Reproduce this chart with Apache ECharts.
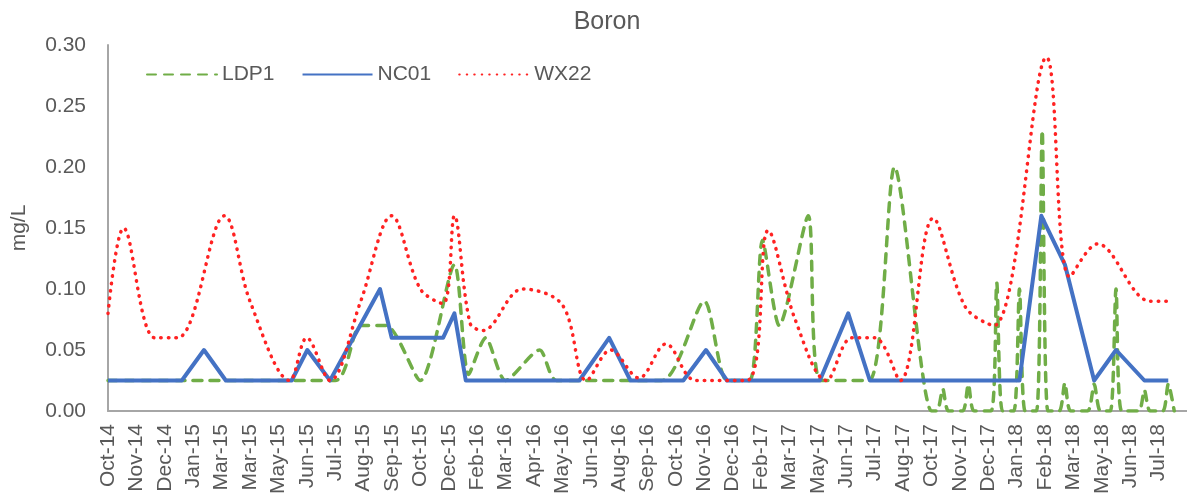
<!DOCTYPE html>
<html>
<head>
<meta charset="utf-8">
<title>Boron</title>
<script src="https://cdn.jsdelivr.net/npm/echarts/dist/echarts.min.js"></script>
<style>
    html, body { margin: 0; padding: 0; background: #fff; }
    #chart { width: 1187px; height: 498px; }
</style>
</head>
<body>
<div id="chart"></div>
<script>
// x labels (one per tick, positions in the series below are in tick units)
var tickLabels = ['Oct-14', 'Nov-14', 'Dec-14', 'Jan-15', 'Mar-15', 'Mar-15', 'May-15', 'Jun-15', 'Jul-15', 'Aug-15',
    'Sep-15', 'Oct-15', 'Dec-15', 'Feb-16', 'Mar-16', 'Apr-16', 'May-16', 'Jun-16', 'Aug-16', 'Sep-16',
    'Oct-16', 'Nov-16', 'Dec-16', 'Feb-17', 'Mar-17', 'May-17', 'Jun-17', 'Jul-17', 'Aug-17', 'Oct-17',
    'Nov-17', 'Dec-17', 'Jan-18', 'Feb-18', 'Mar-18', 'May-18', 'Jun-18', 'Jul-18'];

// LDP1
var ldp1X = [0, 8.0, 8.9, 9.8, 11.0, 12.2, 12.7, 13.3, 14.0, 15.2, 15.8, 19.5, 21.0, 21.8, 22.6, 23.05, 23.64, 24.66, 25.1,
    26.8, 27.7, 29.0, 29.2, 29.4, 29.6, 30.1, 30.3, 30.5, 31.1, 31.3, 31.5, 31.9, 32.1, 32.3, 32.7, 32.9, 33.1,
    33.5, 33.7, 33.9, 34.5, 34.73, 34.95, 35.3, 35.5, 35.7, 36.3, 36.5, 36.7, 37.15, 37.34, 37.55];
var ldp1Y = [0.025, 0.025, 0.07, 0.07, 0.025, 0.12, 0.03, 0.06, 0.025, 0.05, 0.025, 0.025, 0.09, 0.025, 0.025, 0.14, 0.07, 0.16, 0.025,
    0.025, 0.20, 0, 0, 0.018, 0, 0, 0.022, 0, 0, 0.105, 0, 0, 0.10, 0, 0, 0.23, 0,
    0, 0.023, 0, 0, 0.022, 0, 0, 0.10, 0, 0, 0.017, 0, 0, 0.022, 0];

// NC01
var nc01X = [0, 2.6, 3.38, 4.15, 6.47, 7.02, 7.82, 9.58, 9.99, 11.8, 12.2, 12.6, 16.6, 17.65, 18.4, 20.26, 21.06, 21.8,
    25.07, 26.07, 26.83, 32.1, 32.87, 33.7, 34.73, 35.5, 36.5, 37.34];
var nc01Y = [0.025, 0.025, 0.05, 0.025, 0.025, 0.05, 0.025, 0.10, 0.06, 0.06, 0.08, 0.025, 0.025, 0.06, 0.025, 0.025, 0.05, 0.025,
    0.025, 0.08, 0.025, 0.025, 0.16, 0.12, 0.025, 0.05, 0.025, 0.025];

// WX22
var wx22X = [0, 0.55, 1.65, 2.45, 4.1, 5.0, 6.4, 7.0, 7.82, 8.9, 9.99, 11.0, 11.8, 12.2, 12.75, 13.2, 14.6, 16.0, 16.85,
    17.7, 18.7, 19.65, 20.7, 22.5, 23.25, 24.2, 25.3, 26.2, 27.0, 27.9, 29.06, 30.2, 31.2, 33.05, 33.87, 34.85, 36.7, 37.34];
var wx22Y = [0.08, 0.15, 0.06, 0.06, 0.16, 0.09, 0.025, 0.06, 0.025, 0.09, 0.16, 0.10, 0.088, 0.16, 0.072, 0.066, 0.10, 0.087, 0.025,
    0.05, 0.027, 0.055, 0.025, 0.025, 0.148, 0.075, 0.025, 0.06, 0.06, 0.025, 0.158, 0.085, 0.07, 0.29, 0.11, 0.137, 0.09, 0.09];

var textColor = '#595959';
var axisColor = '#A6A6A6';
var font = '"Liberation Sans", Arial, sans-serif';

function pairs(xs, ys) {
    return xs.map(function (x, i) { return [x, ys[i]]; });
}

var myChart = echarts.init(document.getElementById('chart'));

var option = {
    animation: false,
    backgroundColor: '#fff',
    textStyle: { fontFamily: font },
    title: {
        text: 'Boron',
        left: 607,
        top: 10,
        padding: 0,
        textAlign: 'center',
        textStyle: { color: textColor, fontSize: 25, fontWeight: 'normal', fontFamily: font }
    },
    legend: {
        left: 146,
        top: 64,
        padding: 0,
        itemWidth: 70,
        itemHeight: 14,
        itemGap: 27,
        itemStyle: { opacity: 0 },   // line only, no marker in the legend
        textStyle: { color: textColor, fontSize: 21, fontFamily: font },
        data: ['LDP1', 'NC01', 'WX22']
    },
    grid: {
        left: 108,
        right: 0,
        top: 45,
        bottom: 87,
        containLabel: false,
        outerBoundsMode: 'none'
    },
    xAxis: {
        type: 'value',
        min: 0,
        max: 38,
        interval: 1,
        axisLine: { show: true, lineStyle: { color: axisColor, width: 2 } },
        axisTick: { show: false },
        splitLine: { show: false },
        axisLabel: {
            rotate: 90,
            margin: 13,
            color: textColor,
            fontSize: 21,
            fontFamily: font,
            showMaxLabel: true,
            formatter: function (v) {
                var i = Math.round(v);
                return tickLabels[i] || '';
            }
        }
    },
    yAxis: {
        type: 'value',
        min: 0,
        max: 0.3,
        interval: 0.05,
        name: 'mg/L',
        nameLocation: 'middle',
        nameRotate: 90,
        nameGap: 78,
        nameTextStyle: { color: textColor, fontSize: 21, fontFamily: font },
        axisLine: { show: true, lineStyle: { color: axisColor, width: 2 } },
        axisTick: { show: false },
        splitLine: { show: false },
        axisLabel: {
            margin: 22,
            color: textColor,
            fontSize: 21,
            fontFamily: font,
            formatter: function (v) { return v.toFixed(2); }
        }
    },
    series: [
        {
            name: 'LDP1',
            type: 'line',
            symbol: 'none',
            smooth: 0.25,
            data: pairs(ldp1X, ldp1Y),
            itemStyle: { color: '#70AD47' },
            lineStyle: { color: '#70AD47', width: 3.5, type: [9, 8], cap: 'round', join: 'round' }
        },
        {
            name: 'NC01',
            type: 'line',
            symbol: 'none',
            data: pairs(nc01X, nc01Y),
            itemStyle: { color: '#4472C4' },
            lineStyle: { color: '#4472C4', width: 4, join: 'round' }
        },
        {
            name: 'WX22',
            type: 'line',
            symbol: 'none',
            smooth: 0.35,
            data: pairs(wx22X, wx22Y),
            itemStyle: { color: '#FF0000' },
            lineStyle: { color: '#F22', width: 3.5, type: [0.5, 7], cap: 'round', join: 'round' }
        }
    ]
};

myChart.setOption(option);
window.addEventListener('resize', function () { myChart.resize(); });
</script>
</body>
</html>
